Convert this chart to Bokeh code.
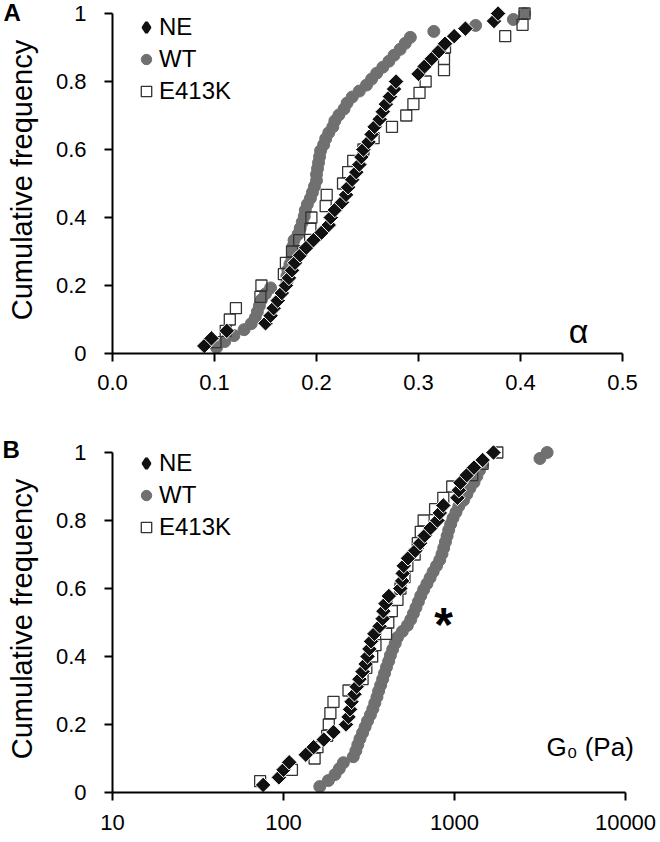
import numpy as np
from bokeh.plotting import figure
from bokeh.models import Range1d, FixedTicker, Legend, LegendItem, Label
from bokeh.layouts import column
from bokeh.embed import file_html
from bokeh.resources import INLINE

# ---------------- data ----------------
series_names = ["NE", "WT", "E413K"]

# Panel A : alpha
ne_alpha = [0.090, 0.097, 0.112, 0.150, 0.155, 0.158, 0.162, 0.166, 0.170, 0.173,
            0.176, 0.179, 0.184, 0.190, 0.197, 0.205, 0.212, 0.214, 0.218, 0.225,
            0.229, 0.231, 0.235, 0.239, 0.242, 0.244, 0.246, 0.251, 0.254, 0.257,
            0.262, 0.265, 0.268, 0.272, 0.276, 0.278, 0.300, 0.306, 0.313, 0.320,
            0.326, 0.335, 0.346, 0.374, 0.378]
wt_alpha = [0.102, 0.110, 0.119, 0.129, 0.136, 0.140, 0.142, 0.144, 0.146, 0.150,
            0.155, 0.171, 0.171, 0.172, 0.174, 0.176, 0.177, 0.177, 0.178, 0.182,
            0.184, 0.186, 0.188, 0.189, 0.191, 0.194, 0.196, 0.198, 0.200, 0.200,
            0.201, 0.202, 0.203, 0.204, 0.207, 0.209, 0.212, 0.216, 0.218, 0.222,
            0.227, 0.230, 0.235, 0.242, 0.249, 0.254, 0.259, 0.265, 0.271, 0.276,
            0.282, 0.287, 0.292, 0.315, 0.356, 0.393, 0.404]
e413k_alpha = [0.101, 0.111, 0.115, 0.121, 0.145, 0.146, 0.168, 0.170, 0.176, 0.183,
               0.194, 0.195, 0.209, 0.210, 0.226, 0.231, 0.236, 0.246, 0.256, 0.274,
               0.288, 0.295, 0.301, 0.307, 0.325, 0.325, 0.326, 0.385, 0.402, 0.404]

# Panel B : G0 (Pa)
ne_g0 = [76, 94, 100, 108, 135, 150, 172, 196, 232, 240,
         245, 250, 260, 268, 278, 290, 302, 310, 318, 325,
         340, 365, 380, 384, 395, 413, 482, 494, 498, 505,
         535, 590, 630, 670, 725, 795, 820, 860, 1040, 1060,
         1083, 1180, 1300, 1460, 1690]
wt_g0 = [163, 183, 200, 212, 224, 256, 265, 272, 280, 290,
         300, 310, 322, 333, 342, 352, 360, 370, 380, 390,
         400, 412, 422, 435, 450, 464, 495, 530, 555, 575,
         595, 615, 635, 660, 690, 720, 750, 785, 820, 845,
         865, 885, 905, 925, 950, 980, 1020, 1060, 1130, 1180,
         1230, 1300, 1350, 1400, 1460, 3160, 3480]
e413k_g0 = [73, 112, 152, 158, 180, 184, 188, 196, 240, 290,
            305, 330, 345, 398, 410, 430, 464, 483, 510, 530,
            585, 610, 635, 660, 770, 860, 970, 1270, 1460, 1780]

y_ticks = [0, 0.2, 0.4, 0.6, 0.8, 1]
y_tick_labels = ["0", "0.2", "0.4", "0.6", "0.8", "1"]
alpha_ticks = [0, 0.1, 0.2, 0.3, 0.4, 0.5]
alpha_tick_labels = ["0.0", "0.1", "0.2", "0.3", "0.4", "0.5"]
g0_ticks = [10, 100, 1000, 10000]
g0_tick_labels = ["10", "100", "1000", "10000"]

FONT = "Liberation Sans"
BLACK = "#111111"
GRAY = "#707070"
SQ_LINE = "#333333"
YTOP = 1.0206  # a little headroom so the markers at 1 are not clipped


def cumfreq(vals):
    v = sorted(vals)
    n = len(v)
    return v, [(i + 1) / n for i in range(n)]


def make_panel(ne, wt, e4, x_range, x_axis_type, xticks, xlabels, xbounds,
               left, right, top, bottom, fw, legend_loc, xstandoff,
               letter, letter_offset, letter_standoff):
    p = figure(frame_width=fw, frame_height=347, x_range=x_range,
               y_range=Range1d(0, YTOP), x_axis_type=x_axis_type,
               output_backend="svg", toolbar_location=None,
               min_border_left=left, min_border_right=right,
               min_border_top=top, min_border_bottom=bottom)
    p.xgrid.visible = False
    p.ygrid.visible = False
    p.outline_line_color = None
    p.background_fill_color = "white"
    p.border_fill_color = "white"

    # panel letter, drawn as the (left aligned) title
    p.title.text = letter
    p.title.align = "left"
    p.title.vertical_align = "bottom"
    p.title.offset = letter_offset
    p.title.standoff = letter_standoff
    p.title.text_font = FONT
    p.title.text_font_size = "24px"
    p.title.text_font_style = "bold"
    p.title.text_color = "black"

    for ax in (p.xaxis[0], p.yaxis[0]):
        ax.axis_line_color = "black"
        ax.axis_line_width = 2
        ax.major_tick_line_color = "black"
        ax.major_tick_line_width = 2
        ax.major_tick_in = 0
        ax.major_tick_out = 8
        ax.minor_tick_line_color = None
        ax.major_label_text_font = FONT
        ax.major_label_text_font_size = "22px"
        ax.major_label_text_color = "black"

    p.yaxis.ticker = FixedTicker(ticks=y_ticks)
    p.yaxis.major_label_overrides = dict(zip(y_ticks, y_tick_labels))
    p.yaxis.bounds = (0, 1)
    p.yaxis.major_label_standoff = 18
    p.yaxis.axis_label = "Cumulative frequency"
    p.yaxis.axis_label_text_font = FONT
    p.yaxis.axis_label_text_font_size = "29px"
    p.yaxis.axis_label_text_font_style = "normal"
    p.yaxis.axis_label_text_color = "black"
    p.yaxis.axis_label_standoff = 15

    p.xaxis.ticker = FixedTicker(ticks=xticks)
    p.xaxis.major_label_overrides = dict(zip(xticks, xlabels))
    p.xaxis.bounds = xbounds
    p.xaxis.major_label_standoff = xstandoff

    x, y = cumfreq(wt)
    r_wt = p.scatter(x, y, marker="circle", size=12, fill_color=GRAY, line_color=GRAY)
    x, y = cumfreq(e4)
    r_e4 = p.scatter(x, y, marker="square", size=11, fill_color=None,
                     line_color=SQ_LINE, line_width=1.3)
    x, y = cumfreq(ne)
    # small diamond underneath (hidden by the rotated squares) -> legend swatch
    r_ne_key = p.scatter(x, y, marker="diamond", size=4, fill_color=BLACK,
                         line_color=BLACK, line_width=3)
    p.scatter(x, y, marker="square", angle=np.pi / 4, size=11,
              fill_color=BLACK, line_color="white", line_width=1)

    legend = Legend(items=[LegendItem(label=series_names[0], renderers=[r_ne_key]),
                           LegendItem(label=series_names[1], renderers=[r_wt]),
                           LegendItem(label=series_names[2], renderers=[r_e4])],
                    location=legend_loc, orientation="vertical",
                    glyph_width=26, glyph_height=30, label_height=30,
                    label_standoff=0, spacing=2, padding=0, margin=0,
                    border_line_color=None, background_fill_alpha=0,
                    label_text_font=FONT, label_text_font_size="24px",
                    label_text_color="black")
    p.add_layout(legend)
    return p


# ---------- panel A ----------
pA = make_panel(ne_alpha, wt_alpha, e413k_alpha, Range1d(0, 0.5), "linear",
                alpha_ticks, alpha_tick_labels, (0, 0.5),
                111, 37, 6, 73, 510, (21, 247), 13,
                "A", -109, -38)
pA.add_layout(Label(x=0.457, y=0.065, text="α", text_font=FONT, text_font_size="34px",
                    text_align="center", text_baseline="alphabetic", text_color="black"))

# ---------- panel B ----------
# frame runs a bit past 10000 so that the "G0 (Pa)" text is not clipped; the axis stops at 10000
pB = make_panel(ne_g0, wt_g0, e413k_g0, Range1d(10, 14977), "log",
                g0_ticks, g0_tick_labels, (10, 10000),
                112, 3, 19, 48, 543, (21, 250), 14,
                "B", -110, -34)
pB.add_layout(Label(x=3450, y=0.133, text="G₀ (Pa)", text_font=FONT, text_font_size="26px",
                    text_align="left", text_baseline="alphabetic", text_color="black"))
pB.add_layout(Label(x=863, y=0.494, text="*", text_font=FONT, text_font_size="48px",
                    text_font_style="bold", text_align="center", text_baseline="alphabetic",
                    text_color="black"))

layout = column(pA, pB)
open("out.html", "w").write(file_html(layout, INLINE))
